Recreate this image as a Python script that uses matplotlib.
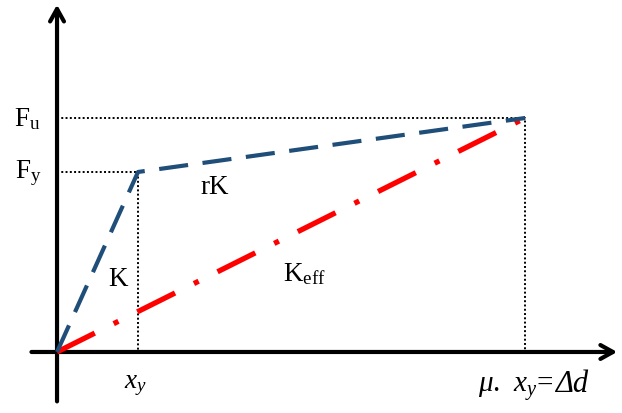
import matplotlib.pyplot as plt

plt.rcParams['font.family'] = 'Liberation Serif'
plt.rcParams['mathtext.fontset'] = 'custom'
plt.rcParams['mathtext.rm'] = 'Liberation Serif'
plt.rcParams['mathtext.it'] = 'Liberation Serif:italic'

# bilinear force-displacement model (x in units of x_y, F in units of F_y)
x_y = 1.0
mu = 5.78
F_y = 1.0
F_u = 1.3

bilinear_x = [0, x_y, mu * x_y]
bilinear_F = [0, F_y, F_u]
secant_x = [0, mu * x_y]
secant_F = [0, F_u]

fig = plt.figure(figsize=(6.22, 4.14), dpi=100)
ax = fig.add_axes([0, 0, 1, 1])
ax.set_xlim(-0.704, 6.975)
ax.set_ylim(-0.339, 1.961)
ax.axis('off')

# axes with open arrowheads
ax.annotate('', xy=(6.95, 0), xytext=(-0.35, 0),
            arrowprops=dict(arrowstyle='->,head_length=0.9,head_width=0.5', lw=3, color='black'))
ax.annotate('', xy=(0, 1.945), xytext=(0, -0.29),
            arrowprops=dict(arrowstyle='->,head_length=0.9,head_width=0.5', lw=3, color='black'))

# guide lines
ax.plot([0, x_y, x_y], [F_y, F_y, 0], color='black', lw=1.4, ls=(0, (1, 1.2)))
ax.plot([0, mu * x_y, mu * x_y], [F_u, F_u, 0], color='black', lw=1.4, ls=(0, (1, 1.2)))

ax.plot(secant_x, secant_F, color='#ff0000', lw=3.8, ls=(0, (8, 4, 1, 4)), zorder=3)
ax.plot(bilinear_x, bilinear_F, color='#1f4e79', lw=3, ls=(0, (7, 3.5)), zorder=4)

fs = 19.5
ax.text(-0.37, F_u, r'F$_\mathrm{u}$', fontsize=fs, ha='center', va='center')
ax.text(-0.36, F_y, r'F$_\mathrm{y}$', fontsize=fs, ha='center', va='center')
ax.text(1.95, 0.92, 'rK', fontsize=fs, ha='center', va='center')
ax.text(0.75, 0.41, 'K', fontsize=fs, ha='center', va='center')
ax.text(3.05, 0.44, r'K$_\mathrm{eff}$', fontsize=fs, ha='center', va='center')
ax.text(x_y - 0.03, -0.18, r'$x_y$', fontsize=fs, ha='center', va='center')

# mathtext keeps capital Greek upright, so the italic Δd is a second text on the same baseline
base_y = -0.215
t1 = ax.text(5.2, base_y, r'$\mu.\;\,x_y$=', fontsize=21, ha='left', va='baseline')
fig.canvas.draw()
x_end = ax.transData.inverted().transform(t1.get_window_extent().p1)[0]
ax.text(x_end + 0.02, base_y, 'Δd', fontsize=22, style='italic', ha='left', va='baseline')

fig.savefig('out.png', dpi=100)
